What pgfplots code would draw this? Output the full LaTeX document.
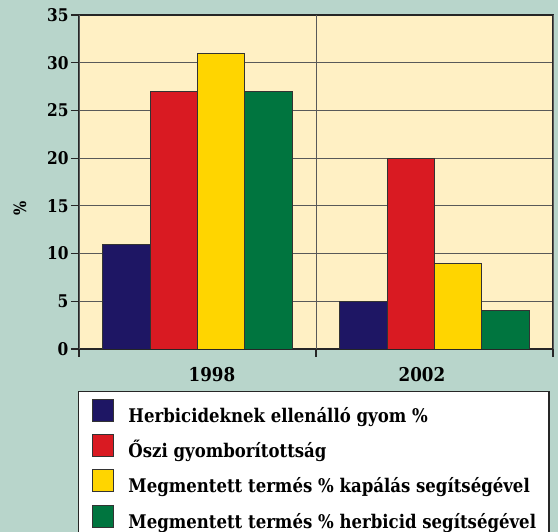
\documentclass[border=0pt]{standalone}
\usepackage{pgfplots}
\pgfplotsset{compat=1.18}
\usepackage{fontspec}
\setmainfont{DejaVu Serif}[FakeStretch=0.88]
\definecolor{bgc}{RGB}{184,213,203}
\definecolor{plotc}{RGB}{255,240,196}
\definecolor{c1}{RGB}{30,22,100}
\definecolor{c2}{RGB}{217,26,34}
\definecolor{c3}{RGB}{255,213,0}
\definecolor{c4}{RGB}{0,117,63}
\begin{document}
\begin{tikzpicture}
\path[use as bounding box] (-79pt,-183pt) rectangle (479pt,349pt);
\clip (-79pt,-183pt) rectangle (479pt,349pt);
\fill[bgc] (-79pt,-183pt) rectangle (479pt,349pt);
\begin{axis}[
  at={(0pt,0pt)}, anchor=south west,
  scale only axis, width=474pt, height=334pt,
  xmin=-0.5, xmax=1.5, ymin=0, ymax=35,
  ybar=0pt, bar width=47.4pt,
  axis background/.style={fill=plotc},
  axis line style={draw=black!85, line width=1.4pt},
  tick align=outside, tick pos=left,
  major tick length=8pt,
  /pgf/number format/assume math mode=true,
  ytick={0,5,...,35},
  yticklabel style={font=\bfseries\fontsize{17.5}{19}\selectfont, xshift=1pt},
  y tick style={draw=black!85, line width=1.2pt},
  ymajorgrids, grid style={draw=black!65, line width=0.8pt},
  xtick={0.061,0.947}, xticklabels={1998,2002},
  x tick style={draw=none},
  xticklabel style={font=\bfseries\fontsize{19}{21}\selectfont, yshift=-7pt},
  extra x ticks={-0.5,0.5,1.5}, extra x tick labels={},
  extra x tick style={xmajorgrids=true, x tick style={draw=black!85, line width=1.2pt}},
  ylabel={\%},
  ylabel style={font=\bfseries\fontsize{17}{19}\selectfont, at={(axis description cs:-0.1245,0.422)}, anchor=center},
  legend style={at={(axis description cs:-0.002,-0.126)}, anchor=north west,
    draw=black!85, line width=1.2pt, fill=white, inner xsep=13pt, inner ysep=7pt,
    row sep=7pt, column sep=15pt,
    font=\bfseries\fontsize{18.8}{21}\selectfont,
    nodes={inner sep=0pt, text height=17pt, text depth=5pt}},
  legend cell align=left,
  legend image code/.code={\draw[#1, draw=black!80, line width=0.8pt] (0pt,-5pt) rectangle (21pt,17pt);},
]
\addplot[fill=c1, draw=black!80, line width=0.8pt] coordinates {(0,11) (1,5)};
\addplot[fill=c2, draw=black!80, line width=0.8pt] coordinates {(0,27) (1,20)};
\addplot[fill=c3, draw=black!80, line width=0.8pt] coordinates {(0,31) (1,9)};
\addplot[fill=c4, draw=black!80, line width=0.8pt] coordinates {(0,27) (1,4)};
\legend{Herbicideknek ellenálló gyom \%, Őszi gyomborítottság, Megmentett termés \% kapálás segítségével, Megmentett termés \% herbicid segítségével}
\end{axis}
\end{tikzpicture}
\end{document}
